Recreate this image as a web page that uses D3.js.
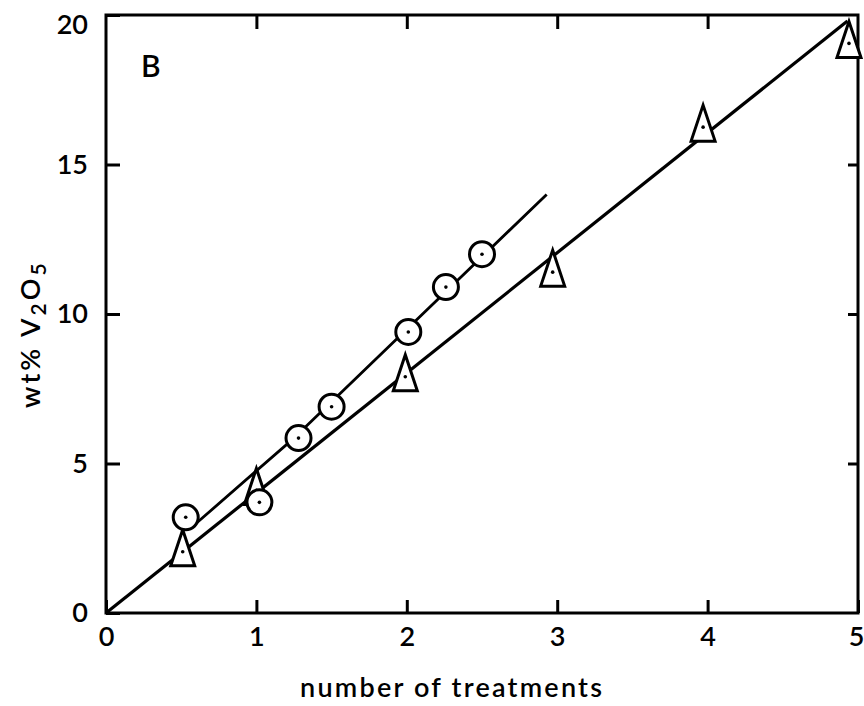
<!DOCTYPE html>
<html>
<head>
<meta charset="utf-8">
<script src="https://cdn.jsdelivr.net/npm/d3@7"></script>
<style>
  html, body { margin: 0; padding: 0; background: #fff; }
  svg { display: block; }
  text { font-family: Lato, "Liberation Sans", sans-serif; fill: #000; }
</style>
</head>
<body>
<svg id="chart" width="864" height="706"></svg>
<script>
// Circle series (treatments vs wt% V2O5)
const circleTreatments = [0.53, 1.02, 1.28, 1.50, 2.01, 2.26, 2.50];
const circleValues     = [3.2, 3.7, 5.85, 6.9, 9.4, 10.9, 12.0];

// Triangle series
const triangleTreatments = [0.51, 1.0, 1.99, 2.97, 3.97, 4.94];
const triangleValues     = [2.05, 4.1, 7.9, 11.4, 16.25, 19.05];

// Hand-fitted lines through each series
const circleFitX   = [0.6, 1.25, 2.93];
const circleFitY   = [3.0, 5.85, 14.0];
const triangleFitX = [0, 4.93];
const triangleFitY = [0, 19.8];

// Axis ticks
const xTicks = [0, 1, 2, 3, 4, 5];
const yTicks = [0, 5, 10, 15, 20];

const svg = d3.select("#chart");
const plotLeft = 106, plotRight = 858, plotTop = 15, plotBottom = 613;

const x = d3.scaleLinear().domain([0, 5]).range([plotLeft, plotRight]);
const y = d3.scaleLinear().domain([0, 20]).range([plotBottom, plotTop]);

// Frame
svg.append("rect")
  .attr("x", plotLeft).attr("y", plotTop)
  .attr("width", plotRight - plotLeft).attr("height", plotBottom - plotTop)
  .attr("fill", "none").attr("stroke", "#000").attr("stroke-width", 3);

function styleAxis(g, fontSize) {
  g.select(".domain").remove();
  g.selectAll(".tick line").attr("stroke", "#000").attr("stroke-width", 3);
  g.selectAll(".tick text")
    .attr("font-size", fontSize)
    .attr("font-weight", 600)
    .attr("fill", "#000");
  g.attr("font-family", null);
}

// Bottom axis: inward ticks, labels below
const xAxisG = svg.append("g")
  .attr("transform", `translate(0,${plotBottom})`)
  .call(d3.axisBottom(x).tickValues(xTicks).tickSize(-13).tickPadding(14).tickFormat(d3.format("d")))
  .call(g => styleAxis(g, 27));
// last label sits flush with the page edge
xAxisG.selectAll(".tick text")
  .filter(d => d === xTicks[xTicks.length - 1])
  .attr("text-anchor", "end").attr("x", 6);

// Left axis: inward ticks, labels left
const yAxisG = svg.append("g")
  .attr("transform", `translate(${plotLeft},0)`)
  .call(d3.axisLeft(y).tickValues(yTicks).tickSize(-14).tickPadding(18).tickFormat(d3.format("d")))
  .call(g => styleAxis(g, 27));
// top label dropped slightly below its tick
yAxisG.selectAll(".tick text")
  .filter(d => d === yTicks[yTicks.length - 1])
  .attr("y", 10);

// Top axis: inward ticks only
svg.append("g")
  .attr("transform", `translate(0,${plotTop})`)
  .call(d3.axisTop(x).tickValues(xTicks.slice(1, -1)).tickSize(-14).tickFormat(""))
  .call(g => styleAxis(g, 27));

// Right axis: inward ticks only
svg.append("g")
  .attr("transform", `translate(${plotRight},0)`)
  .call(d3.axisRight(y).tickValues(yTicks.slice(1, -1)).tickSize(-10).tickFormat(""))
  .call(g => styleAxis(g, 27));

// Axis titles
svg.append("text")
  .attr("x", 300).attr("y", 697)
  .attr("font-size", 27).attr("font-weight", 600)
  .attr("textLength", 302).attr("lengthAdjust", "spacing")
  .text("number of treatments");

const yTitle = svg.append("text")
  .attr("transform", "translate(40,408) rotate(-90)")
  .attr("font-size", 27).attr("font-weight", 600)
  .attr("letter-spacing", 3);
yTitle.append("tspan").text("wt%  V");
yTitle.append("tspan").attr("font-size", 21).attr("dy", 6).text("2");
yTitle.append("tspan").attr("dy", -6).text("O");
yTitle.append("tspan").attr("font-size", 21).attr("dy", 6).text("5");

// Panel letter
svg.append("text")
  .attr("x", 141).attr("y", 77)
  .attr("font-size", 30).attr("font-weight", 600)
  .text("B");

// Fit lines
const line = d3.line().x(d => x(d[0])).y(d => y(d[1]));
svg.append("path")
  .datum(d3.zip(triangleFitX, triangleFitY))
  .attr("d", line)
  .attr("fill", "none").attr("stroke", "#000").attr("stroke-width", 3.2);
svg.append("path")
  .datum(d3.zip(circleFitX, circleFitY))
  .attr("d", line)
  .attr("fill", "none").attr("stroke", "#000").attr("stroke-width", 2.8)
  .attr("stroke-linejoin", "round");

// Triangle markers
const tri = svg.append("g").selectAll("g")
  .data(d3.zip(triangleTreatments, triangleValues))
  .join("g")
  .attr("transform", d => `translate(${x(d[0])},${y(d[1])})`);
tri.append("path")
  .attr("d", "M0,-22 L12,14 L-12,14 Z")
  .attr("fill", "#fff").attr("stroke", "#000").attr("stroke-width", 3)
  .attr("stroke-linejoin", "miter");
tri.append("circle").attr("r", 1.8).attr("fill", "#000");

// Circle markers
const circ = svg.append("g").selectAll("g")
  .data(d3.zip(circleTreatments, circleValues))
  .join("g")
  .attr("transform", d => `translate(${x(d[0])},${y(d[1])})`);
circ.append("circle")
  .attr("r", 12.5)
  .attr("fill", "#fff").attr("stroke", "#000").attr("stroke-width", 3);
circ.append("circle").attr("r", 1.8).attr("fill", "#000");
</script>
</body>
</html>
